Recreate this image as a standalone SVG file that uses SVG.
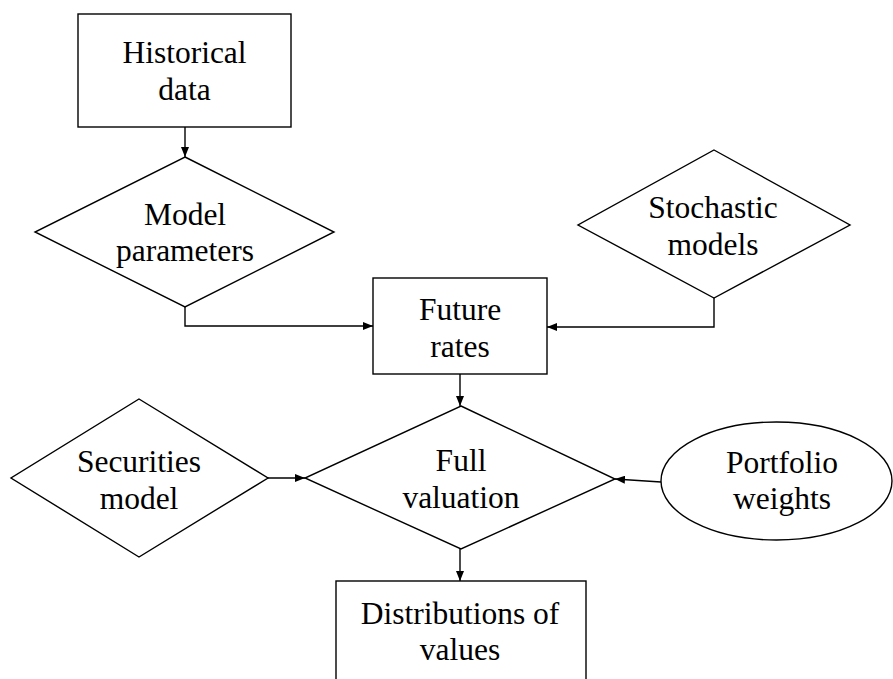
<svg xmlns="http://www.w3.org/2000/svg" width="893" height="679" viewBox="0 0 893 679">
<style>
.shape{fill:#fff;stroke:#000;stroke-width:1.4}
.lbl{font-family:"Liberation Serif","Times New Roman",serif;font-size:31.5px;fill:#000;text-anchor:middle}
.con{fill:none;stroke:#000;stroke-width:1.4}
</style>
<defs>
<marker id="ah" viewBox="0 0 10 8" refX="10" refY="4" markerWidth="10" markerHeight="8" markerUnits="userSpaceOnUse" orient="auto">
<path d="M0,0 L10,4 L0,8 Z" fill="#000"/>
</marker>
</defs>
<rect width="893" height="679" fill="#fff"/>
<g id="connectors">
<line class="con" x1="185" y1="127" x2="185" y2="157" marker-end="url(#ah)"/>
<polyline class="con" points="185,307 185,326 373,326" marker-end="url(#ah)"/>
<polyline class="con" points="714,298 714,327 547,327" marker-end="url(#ah)"/>
<line class="con" x1="460" y1="374" x2="460" y2="406" marker-end="url(#ah)"/>
<line class="con" x1="268" y1="478" x2="305" y2="478" marker-end="url(#ah)"/>
<line class="con" x1="661" y1="482" x2="615" y2="479" marker-end="url(#ah)"/>
<line class="con" x1="460" y1="549" x2="460" y2="581" marker-end="url(#ah)"/>
</g>
<g id="historical-data">
<rect class="shape" x="78" y="14" width="213" height="113"/>
<text class="lbl" x="184.5" y="63">Historical</text>
<text class="lbl" x="184.5" y="100">data</text>
</g>
<g id="model-parameters">
<polygon class="shape" points="185,157 334,232 185,307 35,232"/>
<text class="lbl" x="185" y="225">Model</text>
<text class="lbl" x="185" y="261">parameters</text>
</g>
<g id="stochastic-models">
<polygon class="shape" points="714,150 850,225 714,298 578,225"/>
<text class="lbl" x="713" y="218">Stochastic</text>
<text class="lbl" x="713" y="255">models</text>
</g>
<g id="future-rates">
<rect class="shape" x="373" y="278" width="174" height="96"/>
<text class="lbl" x="460" y="320">Future</text>
<text class="lbl" x="460" y="357">rates</text>
</g>
<g id="securities-model">
<polygon class="shape" points="139,399 268,478 139,557 11,478"/>
<text class="lbl" x="139" y="472">Securities</text>
<text class="lbl" x="139" y="509">model</text>
</g>
<g id="full-valuation">
<polygon class="shape" points="461,406 615,479 461,549 305,478"/>
<text class="lbl" x="461" y="471">Full</text>
<text class="lbl" x="461" y="508">valuation</text>
</g>
<g id="portfolio-weights">
<ellipse class="shape" cx="776.5" cy="481" rx="115.5" ry="59"/>
<text class="lbl" x="782" y="473">Portfolio</text>
<text class="lbl" x="782" y="509">weights</text>
</g>
<g id="distributions-of-values">
<rect class="shape" x="336" y="581" width="250" height="110"/>
<text class="lbl" x="460" y="624">Distributions of</text>
<text class="lbl" x="460" y="660">values</text>
</g>
</svg>
